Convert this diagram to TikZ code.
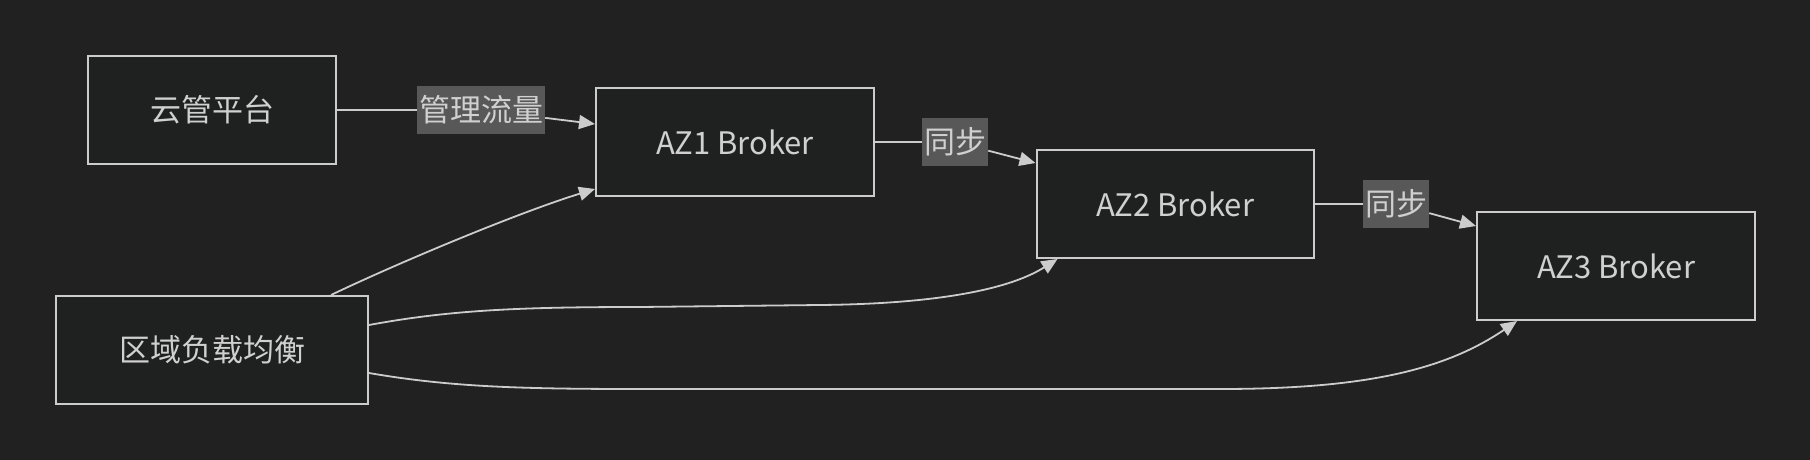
\documentclass[tikz,border=0pt]{standalone}
\usepackage{fontspec}
\setmainfont{Noto Sans CJK SC}
\usetikzlibrary{arrows.meta,positioning}

\definecolor{bgcol}{HTML}{212121}
\definecolor{boxcol}{HTML}{1F2020}
\definecolor{linecol}{HTML}{CCCCCC}
\definecolor{lblcol}{HTML}{585858}
\definecolor{txtcol}{HTML}{D0D0D0}

\begin{document}
\begin{tikzpicture}[x=1pt,y=-1pt,
        box/.style={rectangle,draw=linecol,line width=2pt,fill=boxcol,text=txtcol,
            minimum height=108pt,font=\fontsize{31}{37}\selectfont},
        lbl/.style={rectangle,fill=lblcol,text=txtcol,inner xsep=2pt,inner ysep=0pt,
            minimum height=48pt,font=\fontsize{31}{37}\selectfont},
        link/.style={draw=linecol,line width=1.8pt},
        flow/.style={link,->},
        >={Triangle[length=16pt,width=14pt]}]
                \fill[bgcol] (0,0) rectangle (1810,460);
                \useasboundingbox (0,0) rectangle (1810,460);
                % nodes
                \node[box,minimum width=248pt] (cloud) at (212,110) {云管平台};
                \node[box,minimum width=278pt] (az1) at (735,142) {AZ1 Broker};
                \node[box,minimum width=312pt] (lb) at (212,350) {区域负载均衡};
                \node[box,minimum width=277pt] (az2) at (1175,204) {AZ2 Broker};
                \node[box,minimum width=278pt] (az3) at (1616,266) {AZ3 Broker};
                % edge labels
                \node[lbl] (mgmt) at (481,110) {管理流量};
                \node[lbl] (syncA) at (955,142) {同步};
                \node[lbl] (syncB) at (1396,204) {同步};
                % edges
                \draw[link] (cloud) -- (mgmt);
                \draw[flow] (mgmt) -- ([yshift=18pt]az1.west);
                \draw[link] (az1) -- (syncA);
                \draw[flow] (syncA) -- ([yshift=-14pt]az2.north west);
                \draw[link] (az2) -- (syncB);
                \draw[flow] (syncB) -- ([yshift=-15pt]az3.north west);
                \draw[flow] ([xshift=-38pt]lb.north east) .. controls (400,262) and (520,212) .. ([yshift=8pt]az1.south west);
                \draw[flow] ([yshift=-30pt]lb.north east) .. controls (450,310) and (520,307) .. (640,307)
                    -- (820,305) .. controls (925,304) and (1005,292) .. ([xshift=22pt]az2.south west);
                \draw[flow] ([yshift=32pt]lb.south east) .. controls (450,387) and (520,389) .. (640,389)
                    -- (1220,389) .. controls (1365,389) and (1445,370) .. ([xshift=41pt]az3.south west);
            \end{tikzpicture}
\end{document}
